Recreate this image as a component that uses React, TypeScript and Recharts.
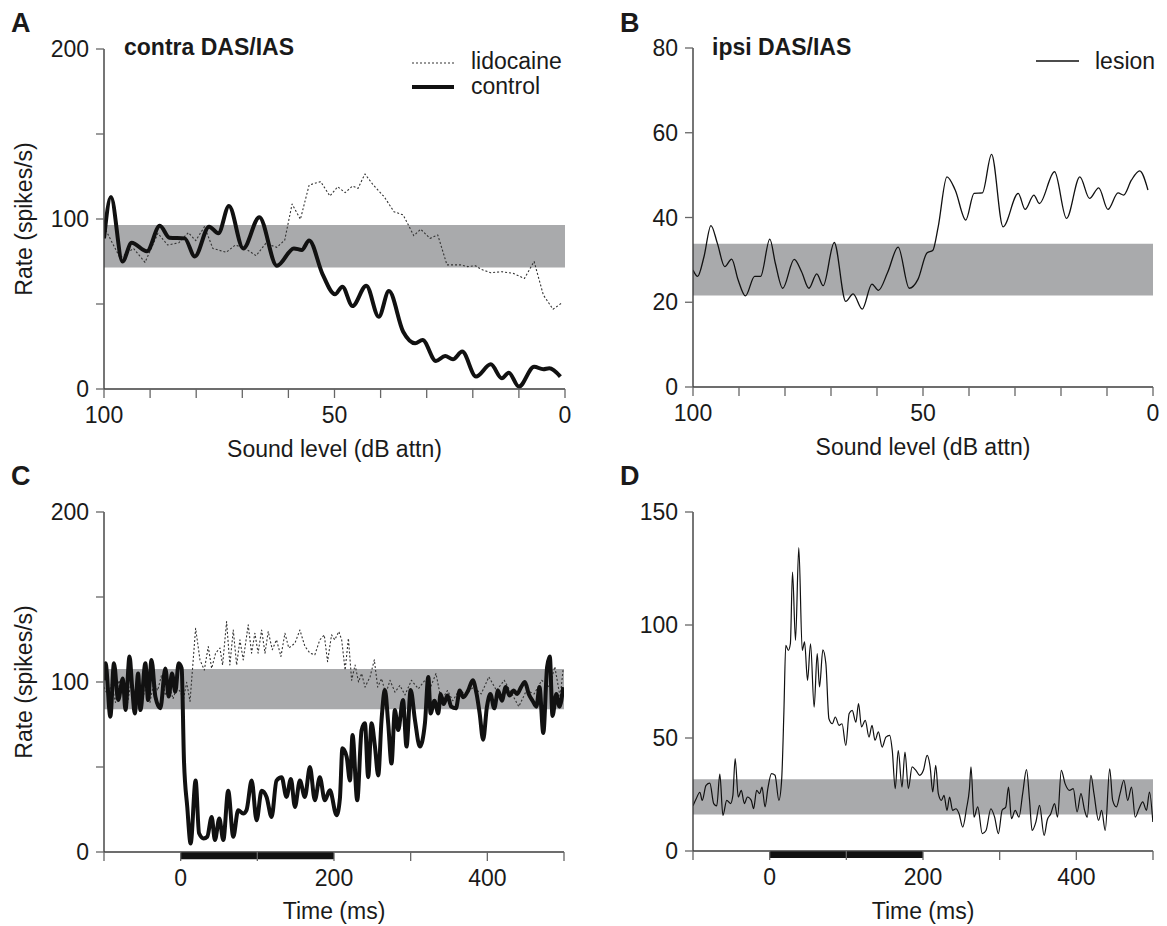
import { Label, Line, LineChart, ReferenceArea, XAxis, YAxis } from "recharts";

const FONT = '"Liberation Sans", Arial, Helvetica, sans-serif';
const INK = "#1a1a1a";
const AXIS = "#3c3c3c";
const BAND = "#a9aaac";

// A: contra DAS/IAS, rate vs sound level (dB attn)
const contraControl: [number, number][] = [
  [100, 88.6], [98.5, 113], [96, 75], [94, 86], [90.7, 81], [87.9, 96], [85.8, 89], [82.5, 88.6],
  [80.3, 78], [77.2, 95.5], [75.2, 91.6], [72.9, 107.6], [69.8, 82.7], [66.3, 101], [62.5, 72.5],
  [58.8, 82.7], [57.1, 81.8], [55.5, 87.3], [52.6, 67.6], [49.9, 55.7], [48.3, 60.2], [46.1, 48.8],
  [43.1, 60.8], [40.4, 42.5], [38.2, 57.6], [35.1, 33.7], [32.5, 26.9], [30.9, 28.8], [28, 16.5],
  [26, 19.4], [24.3, 17.5], [22.3, 22], [19.3, 7.3], [16.1, 14.5], [13.7, 6.3], [12.2, 9.6],
  [10, 1.4], [6.7, 13.1], [4.7, 11.6], [3.4, 12.2], [1, 7.3],
];
const contraLidocaine: [number, number][] = [
  [100, 95.5], [96.5, 77], [93.6, 82.7], [91.1, 74.5], [88.3, 91.6], [86.2, 84.7], [83.8, 86],
  [81.7, 92], [80.1, 87.3], [78.2, 95.5], [76.4, 82.7], [73.5, 80.4], [71.5, 84.7], [69.4, 82.7],
  [67, 78.4], [64.9, 85.7], [62.5, 83.3], [60.8, 87.6], [59.2, 108.8], [57.4, 99.8], [55.5, 120],
  [53, 122], [51, 113.5], [49.3, 119], [47.7, 115.5], [46.1, 119.4], [44.9, 118], [43.4, 126.5],
  [41.6, 120], [39.2, 113], [37.1, 104.3], [35.1, 102.4], [32.8, 90.2], [31.3, 94], [29.3, 88.6],
  [27.6, 90.6], [25.6, 73], [22.7, 73], [21.1, 72], [19.4, 72.5], [18.2, 70.4], [16.1, 68.4],
  [13.7, 69], [11.2, 68], [8.8, 65], [6.7, 75], [4.7, 55.3], [2.6, 46.9], [0.6, 50.8],
];
const contraBand: [number, number] = [71.4, 96.5];

// B: ipsi DAS/IAS after lesion
const ipsiLesion: [number, number][] = [
  [100, 27.6], [99, 26.1], [97.6, 30.8], [96.1, 38.1], [94.7, 33.9], [93.1, 28.4], [91.6, 30.2],
  [90.2, 25.3], [88.6, 21.5], [86.6, 26.1], [85.3, 26.1], [83.3, 34.9], [82.1, 29.2], [80.5, 23.3],
  [78, 30.1], [76.4, 27.2], [74.8, 23.3], [73.1, 26.7], [71.7, 23.9], [69.3, 34.1], [66.8, 20.2],
  [65.2, 22], [63.2, 18.4], [61.1, 24.3], [59.7, 22.8], [57.7, 27], [55.4, 33], [53, 23.3],
  [51.1, 25.4], [49.1, 31.7], [47.9, 32.2], [46.7, 37.8], [44.8, 49.6], [43, 46.5], [40.7, 39.4],
  [38.9, 45.7], [37.1, 45.8], [35.1, 54.9], [32.6, 37.8], [29.3, 45.7], [27.8, 41.9], [25.9, 45.3],
  [24.7, 43.3], [21.4, 50.8], [18.8, 39.8], [15.9, 49.6], [13.8, 44.5], [11.8, 47], [9.8, 41.9],
  [7.6, 45.8], [6.4, 45.3], [4.7, 48.8], [2.9, 51], [1.1, 46.5],
];
const ipsiBand: [number, number] = [21.6, 33.8];

// C: contra, rate vs time
const timeControl: [number, number][] = [
  [-101, 101], [-98, 111], [-91.7, 79.6], [-87, 111], [-81.5, 89.4], [-75.4, 102], [-72, 83.5],
  [-66.7, 115], [-63.3, 97], [-59.8, 81.5], [-55.5, 105], [-52.5, 83.5], [-46, 111], [-42.5, 89.4],
  [-38, 113], [-33, 91.4], [-26.5, 84.5], [-20, 108], [-15.6, 91.4], [-11.3, 105], [-7, 94.3],
  [-2.6, 111], [1.3, 108], [4.3, 54], [8.6, 26.5], [13, 5], [19.5, 42], [24, 11], [30, 8],
  [34.7, 9], [40.4, 20.6], [44.7, 7], [50.4, 19.7], [55.6, 7], [62, 36], [68.6, 9], [75, 24.6],
  [81.6, 22.6], [85.9, 24.6], [92.6, 42], [99, 18.7], [105.6, 36], [112, 32.4], [118.6, 20.6],
  [125, 42], [131.7, 44], [138, 32.4], [143.8, 43], [149, 26.5], [155.5, 42], [162, 32.4],
  [168.6, 50], [175, 30.4], [181.5, 44], [188, 30.4], [194.6, 36.3], [203.4, 21.6], [207.7, 31.5],
  [211, 61], [216.5, 56], [220.8, 42], [224.2, 68.8], [230.3, 30.4], [236, 71.7], [240.3, 75.7],
  [244.6, 44], [249, 75.7], [253.4, 62], [257.7, 45], [262, 77.6], [266.4, 95.3], [270.7, 75.7],
  [275, 52], [279.4, 83.5], [283.7, 71.7], [290, 89.4], [294.6, 62], [300, 95.3], [305.6, 77.6],
  [312, 62], [318.6, 75.7], [323, 103], [326, 81.5], [331, 89], [336, 81.5], [339, 93], [343, 87],
  [348, 92], [353, 85.5], [359, 84.5], [364, 95], [368.5, 91], [375, 95], [381, 101], [386, 93],
  [390, 81.5], [394.5, 66], [399.5, 85.5], [404, 93], [409, 84.5], [414, 95], [419, 89], [424, 97],
  [429, 92], [434, 95], [439, 93], [444, 97], [449, 100], [454, 93], [459, 89], [464, 85.5],
  [468, 97], [473, 70], [478, 109], [481.5, 115], [485, 80], [490, 93], [494, 85.5], [499, 97],
];
const timeLidocaine: [number, number][] = [
  [-100, 97], [-95, 92], [-90, 99], [-85, 88], [-80.6, 101], [-74, 91.4], [-70, 86], [-65, 99],
  [-60, 94], [-55, 103], [-50, 90], [-45, 97], [-40, 88], [-35, 100], [-30, 95], [-25, 104],
  [-20, 92], [-15, 98], [-10, 90], [-5, 97], [0, 94], [3.5, 89.4], [7.8, 99.8], [12.2, 88.6],
  [19.5, 131.6], [25.2, 113], [30.8, 107], [36, 120.8], [40.4, 108], [45.6, 117], [51.2, 120],
  [54.7, 110], [59.9, 135.5], [64.2, 110], [68.6, 130.6], [73, 110], [77.3, 124.8], [81.6, 113],
  [88.1, 133.6], [92.5, 117], [96.8, 128.7], [101, 117], [105.6, 130.6], [110, 117], [114.2, 129.7],
  [119.5, 119], [125, 124.8], [130.8, 115], [136, 128.7], [141, 120], [149, 122.8], [155.5, 130.6],
  [162, 121], [168.6, 117], [175, 116], [181.5, 124.8], [187.3, 127.7], [191.6, 112], [196.8, 127.7],
  [201, 124.8], [206.3, 129.7], [210, 124.8], [214.5, 107], [218.8, 125.7], [223, 101], [227.5, 110],
  [232, 100], [236, 105], [240.5, 97], [247, 103], [252.6, 113], [257, 97], [262, 102], [267.6, 93],
  [273, 101], [279.6, 94], [286, 98], [292.6, 92.4], [301, 101], [310, 96], [318.6, 101], [326, 97],
  [333, 105], [340, 89], [348, 95], [355, 89], [363, 95], [372, 93], [382, 97], [392, 93], [402, 103],
  [412, 95], [422, 101], [432, 93], [441, 85.5], [451, 95], [461, 93], [471, 101], [481, 97],
  [488, 109], [495, 91], [499, 108],
];
const timeBandC: [number, number] = [83.9, 107.7];

// D: ipsi lesion, rate vs time
const timeLesion: [number, number][] = [
  [-100, 20], [-96, 23], [-91, 26], [-88, 22.4], [-83, 29], [-78, 30], [-73, 21], [-69, 20],
  [-65, 34], [-61, 15.8], [-56, 22.4], [-51, 21], [-48, 24.6], [-45, 40.9], [-41, 23.9], [-37, 26.8],
  [-33, 21], [-29, 23.9], [-24, 22.4], [-21, 18.7], [-17, 26.8], [-13, 25.4], [-10, 28.3], [-6, 19.5],
  [-2.4, 27.6], [2.4, 34.2], [7, 33.5], [12, 22.4], [15.6, 31.3], [18.6, 62], [21, 91], [24.4, 88.8],
  [27, 91.7], [29.8, 123.4], [33.7, 93.2], [38, 134.2], [42.5, 88.8], [45.5, 92.5], [49.4, 75.5],
  [53.3, 91.7], [58, 63.7], [62, 87.3], [65, 72.6], [69.4, 89], [73.3, 82.9], [77.3, 58.5],
  [81.7, 56.3], [85.6, 59.3], [90.5, 55.6], [94.4, 56.3], [99.3, 46.7], [103.7, 60.8], [107.6, 62.2],
  [112.5, 57], [115.9, 65.2], [119.8, 54.9], [124.7, 57.8], [129.6, 50.4], [133.5, 55.6], [137.4, 49],
  [141.8, 52.7], [146.7, 46], [151.6, 50.4], [156.5, 51.2], [159.9, 44.5], [163.8, 27.6], [167.7, 44.5],
  [172.6, 28.3], [176.5, 43.8], [180.9, 27.6], [185.8, 37.2], [190.7, 35.7], [195.6, 33.5],
  [200.5, 35.7], [205.4, 42.3], [209.3, 37.2], [212.7, 26.1], [216.6, 37.9], [220, 25.4], [224, 22.4],
  [227.4, 24.6], [231.3, 18], [234.7, 23.9], [238.6, 18], [243, 18.7], [247, 16.5], [251.8, 10.6],
  [256.7, 18.7], [260.6, 27.6], [262.6, 37.2], [266.5, 15], [271.4, 19.5], [277.3, 7.7], [282.2, 9.1],
  [288.5, 18.7], [293.4, 15], [298.3, 7.7], [303.2, 18], [308, 19.5], [311.5, 28.3], [315.4, 14.3],
  [320.3, 18], [325.2, 15], [330, 25.4], [335, 36], [339, 22.4], [342.3, 9.1], [347.2, 12.8],
  [352, 20.2], [358, 6.9], [362, 13.6], [366.7, 16.5], [371.6, 21], [375.5, 15], [380.4, 35.7],
  [385.3, 29.8], [391.2, 26.8], [396, 27.6], [401, 17.3], [406, 25.4], [410.8, 18], [414.2, 15],
  [419, 33.5], [423, 25.4], [429, 13.6], [433, 18], [437.7, 9.1], [443.5, 36.4], [447.4, 22.4],
  [452.3, 19.5], [457, 25.4], [462, 31.3], [467, 22.4], [472, 28.3], [476.8, 15], [481.7, 18.7],
  [486.6, 21.7], [491.5, 18], [495.4, 26.1], [499.8, 12.8],
];
const timeBandD: [number, number] = [16.1, 31.7];

const stimulus: [number, number] = [0, 200];

const levelTicks = [0, 10, 20, 30, 40, 50, 60, 70, 80, 90, 100];
const levelLabels = [0, 50, 100];
const timeTicks = [-100, 0, 100, 200, 300, 400, 500];
const timeLabels = [0, 200, 400];
const rateTicksAC = [0, 50, 100, 150, 200];
const rateLabelsAC = [0, 100, 200];
const rateTicksB = [0, 20, 40, 60, 80];
const rateTicksD = [0, 50, 100, 150];

const pts = (arr: [number, number][]) => arr.map(([x, y]) => ({ x, y }));

interface Series {
  data: [number, number][];
  width: number;
  dash?: string;
  color?: string;
  type?: "monotone" | "linear";
}

interface PanelProps {
  left: number;
  top: number;
  width: number;
  height: number;
  margin: { top: number; right: number; bottom: number; left: number };
  yAxisWidth: number;
  xAxisHeight: number;
  xDomain: [number, number];
  reversed?: boolean;
  xTicks: number[];
  xLabels: number[];
  xTitle: string;
  yDomain: [number, number];
  yTicks: number[];
  yLabels: number[];
  yTitle?: string;
  band: [number, number];
  stim?: [number, number];
  series: Series[];
}

function Panel(p: PanelProps) {
  const fmt = (labels: number[]) => (v: number) => (labels.includes(v) ? String(v) : "");
  return (
    <div style={{ position: "absolute", left: p.left, top: p.top }}>
      <LineChart width={p.width} height={p.height} margin={p.margin}>
        <XAxis
          type="number"
          dataKey="x"
          domain={p.xDomain}
          reversed={p.reversed}
          ticks={p.xTicks}
          interval={0}
          tickFormatter={fmt(p.xLabels)}
          height={p.xAxisHeight}
          tickSize={9}
          tickMargin={9}
          axisLine={{ stroke: AXIS, strokeWidth: 1.4 }}
          tickLine={{ stroke: "#666", strokeWidth: 1.3 }}
          tick={{ fontSize: 23, fill: INK }}
          allowDataOverflow
        >
          <Label value={p.xTitle} position="insideBottom" offset={7} style={{ fontSize: 23, fill: INK }} />
        </XAxis>
        <YAxis
          type="number"
          domain={p.yDomain}
          ticks={p.yTicks}
          interval={0}
          tickFormatter={fmt(p.yLabels)}
          width={p.yAxisWidth}
          tickSize={8}
          tickMargin={7}
          axisLine={{ stroke: AXIS, strokeWidth: 1.4 }}
          tickLine={{ stroke: "#666", strokeWidth: 1.3 }}
          tick={{ fontSize: 23, fill: INK }}
          allowDataOverflow
        >
          {p.yTitle && (
            <Label
              value={p.yTitle}
              angle={-90}
              position="insideLeft"
              offset={24}
              style={{ fontSize: 23, fill: INK, textAnchor: "middle" }}
            />
          )}
        </YAxis>
        <ReferenceArea y1={p.band[0]} y2={p.band[1]} fill={BAND} fillOpacity={1} stroke="none" />
        {p.stim && (
          <ReferenceArea
            x1={p.stim[0]}
            x2={p.stim[1]}
            y1={-p.yDomain[1] * 0.021}
            y2={0}
            fill="#111"
            fillOpacity={1}
            stroke="none"
            ifOverflow="visible"
          />
        )}
        {p.series.map((s, i) => (
          <Line
            key={i}
            data={pts(s.data)}
            dataKey="y"
            type={s.type ?? "monotone"}
            stroke={s.color ?? "#111"}
            strokeWidth={s.width}
            strokeDasharray={s.dash}
            strokeLinejoin="round"
            dot={false}
            activeDot={false}
            isAnimationActive={false}
          />
        ))}
      </LineChart>
    </div>
  );
}

const txt = { fontSize: 23, fill: INK } as const;
const bold = { fontSize: 27, fontWeight: 700, fill: INK } as const;

export default function App() {
  return (
    <div style={{ position: "absolute", left: 0, top: 0, width: 1167, height: 926, background: "#fff", fontFamily: FONT }}>
      <Panel
        left={0} top={0} width={600} height={470}
        margin={{ top: 49, right: 35, bottom: 6, left: 0 }}
        yAxisWidth={104} xAxisHeight={75}
        xDomain={[0, 100]} reversed xTicks={levelTicks} xLabels={levelLabels}
        xTitle="Sound level (dB attn)"
        yDomain={[0, 200]} yTicks={rateTicksAC} yLabels={rateLabelsAC}
        yTitle="Rate (spikes/s)"
        band={contraBand}
        series={[
          { data: contraLidocaine, width: 1.1, dash: "2 2", color: "#333", type: "linear" },
          { data: contraControl, width: 4 },
        ]}
      />
      <Panel
        left={588} top={0} width={579} height={470}
        margin={{ top: 48, right: 14, bottom: 8, left: 0 }}
        yAxisWidth={105} xAxisHeight={75}
        xDomain={[0, 100]} reversed xTicks={levelTicks} xLabels={levelLabels}
        xTitle="Sound level (dB attn)"
        yDomain={[0, 80]} yTicks={rateTicksB} yLabels={rateTicksB}
        band={ipsiBand}
        series={[{ data: ipsiLesion, width: 1.3 }]}
      />
      <Panel
        left={0} top={460} width={600} height={466}
        margin={{ top: 52, right: 36, bottom: 0, left: 0 }}
        yAxisWidth={104} xAxisHeight={74}
        xDomain={[-100, 500]} xTicks={timeTicks} xLabels={timeLabels}
        xTitle="Time (ms)"
        yDomain={[0, 200]} yTicks={rateTicksAC} yLabels={rateLabelsAC}
        yTitle="Rate (spikes/s)"
        band={timeBandC}
        stim={stimulus}
        series={[
          { data: timeLidocaine, width: 1.1, dash: "2 2", color: "#333", type: "linear" },
          { data: timeControl, width: 4 },
        ]}
      />
      <Panel
        left={588} top={460} width={579} height={466}
        margin={{ top: 52, right: 14, bottom: 0, left: 0 }}
        yAxisWidth={105} xAxisHeight={75}
        xDomain={[-100, 500]} xTicks={timeTicks} xLabels={timeLabels}
        xTitle="Time (ms)"
        yDomain={[0, 150]} yTicks={rateTicksD} yLabels={rateTicksD}
        band={timeBandD}
        stim={stimulus}
        series={[{ data: timeLesion, width: 1.2 }]}
      />
      <svg width={1167} height={926} style={{ position: "absolute", left: 0, top: 0, pointerEvents: "none" }}>
        <text x={11} y={32} {...bold}>A</text>
        <text x={620} y={32} {...bold}>B</text>
        <text x={11} y={485} {...bold}>C</text>
        <text x={620} y={485} {...bold}>D</text>
        <text x={124} y={55} {...txt} fontWeight={700}>contra DAS/IAS</text>
        <text x={712} y={55} {...txt} fontWeight={700}>ipsi DAS/IAS</text>
        <line x1={412} x2={454} y1={63} y2={63} stroke="#333" strokeWidth={1.1} strokeDasharray="2 2" />
        <text x={471} y={69} {...txt}>lidocaine</text>
        <line x1={412} x2={454} y1={87} y2={87} stroke="#111" strokeWidth={4} />
        <text x={471} y={94} {...txt}>control</text>
        <line x1={1036} x2={1079} y1={61} y2={61} stroke="#111" strokeWidth={1.3} />
        <text x={1095} y={69} {...txt}>lesion</text>
      </svg>
    </div>
  );
}
